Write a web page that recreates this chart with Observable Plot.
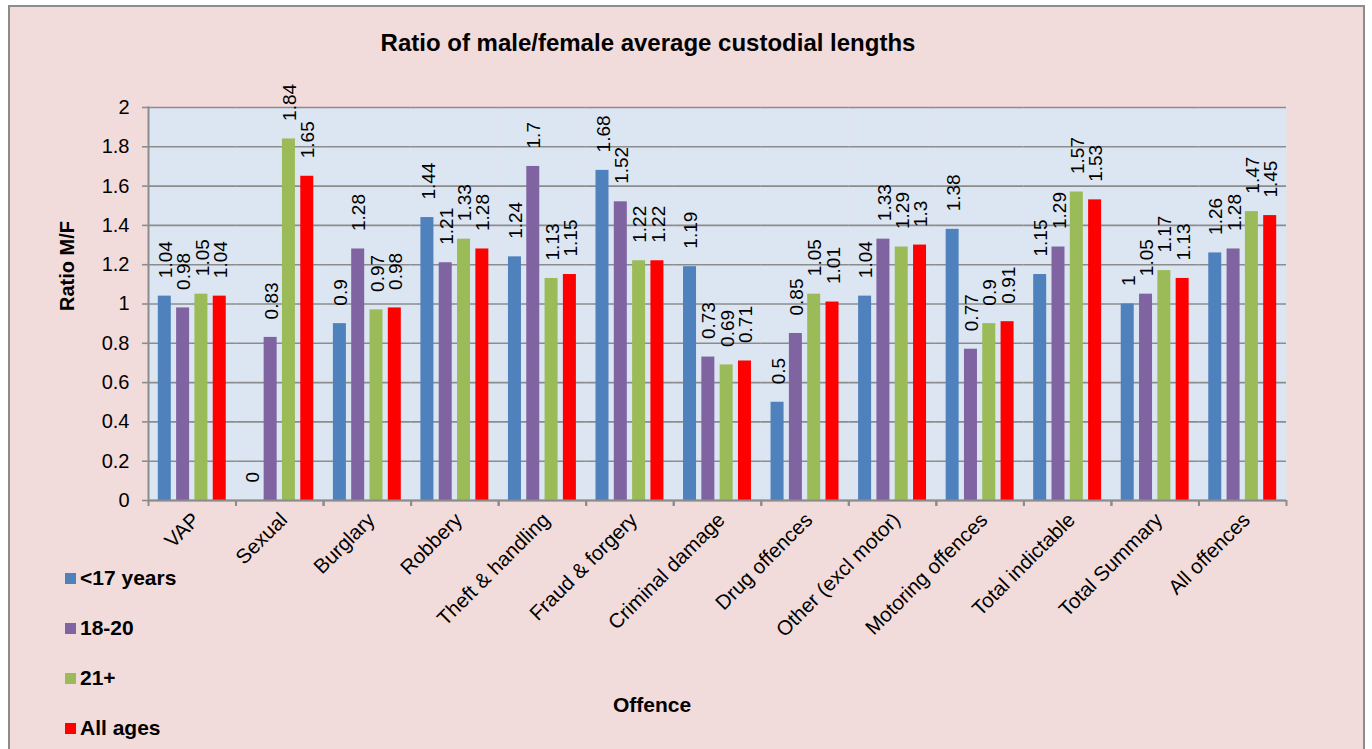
<!DOCTYPE html>
<html>
<head>
<meta charset="utf-8">
<script src="https://cdn.jsdelivr.net/npm/d3@7"></script>
<script src="https://cdn.jsdelivr.net/npm/@observablehq/plot@0.6"></script>
<style>
  html, body { margin: 0; padding: 0; background: #ffffff; width: 1372px; height: 749px; overflow: hidden; }
  body { font-family: "Liberation Sans", Arial, sans-serif; position: relative; }
  #frame { position: absolute; left: 8px; top: 5px; width: 1357px; height: 760px; background: #F2DCDB; border: 2px solid #8c8c8c; box-sizing: border-box; }
  #chart { position: absolute; left: 0; top: 0; }
  #title { position: absolute; left: 0; width: 1296px; top: 29px; text-align: center; font-weight: bold; font-size: 24px; color: #000; }
  #ylabel { position: absolute; left: 67px; top: 266px; transform: translate(-50%, -50%) rotate(-90deg); font-weight: bold; font-size: 20px; white-space: nowrap; }
  #xlabel { position: absolute; left: 652px; top: 705px; transform: translate(-50%, -50%); font-weight: bold; font-size: 21px; }
  .leg { position: absolute; left: 65px; font-weight: bold; font-size: 21px; display: flex; align-items: center; transform: translateY(-50%); }
  .leg span.sw { display: inline-block; width: 11px; height: 11px; margin-right: 4px; }
</style>
</head>
<body>
<div id="frame"></div>
<div id="chart"></div>
<div id="title">Ratio of male/female average custodial lengths</div>
<div id="ylabel">Ratio M/F</div>
<div id="xlabel">Offence</div>
<div id="legend"></div>
<script>
const offences = ["VAP", "Sexual", "Burglary", "Robbery", "Theft & handling", "Fraud & forgery",
  "Criminal damage", "Drug offences", "Other (excl motor)", "Motoring offences",
  "Total indictable", "Total Summary", "All offences"];
const seriesNames = ["<17 years", "18-20", "21+", "All ages"];
const under17   = [1.04, 0,    0.9,  1.44, 1.24, 1.68, 1.19, 0.5,  1.04, 1.38, 1.15, 1,    1.26];
const age18to20 = [0.98, 0.83, 1.28, 1.21, 1.7,  1.52, 0.73, 0.85, 1.33, 0.77, 1.29, 1.05, 1.28];
const age21plus = [1.05, 1.84, 0.97, 1.33, 1.13, 1.22, 0.69, 1.05, 1.29, 0.9,  1.57, 1.17, 1.47];
const allAges   = [1.04, 1.65, 0.98, 1.28, 1.15, 1.22, 0.71, 1.01, 1.3,  0.91, 1.53, 1.13, 1.45];
const seriesColors = ["#4F81BD", "#8064A2", "#9BBB59", "#FF0000"];
const yTicks = [0, 0.2, 0.4, 0.6, 0.8, 1, 1.2, 1.4, 1.6, 1.8, 2];

const seriesValues = [under17, age18to20, age21plus, allAges];
const data = offences.flatMap((o, i) => seriesNames.map((s, j) => ({offence: o, series: s, value: seriesValues[j][i]})));

const W = 1372, H = 749, mL = 148, mR = 86, mT = 107, mB = 249;
const bandHalf = (W - mL - mR) / offences.length / 2;
const grid = "#8c8c8c";

const chart = Plot.plot({
  width: W, height: H,
  marginLeft: mL, marginRight: mR, marginTop: mT, marginBottom: mB,
  style: {background: "transparent", fontFamily: "'Liberation Sans', Arial, sans-serif", fontSize: "19px", color: "#000"},
  fx: {domain: offences, padding: 0, round: false, label: null, axis: null},
  x: {domain: seriesNames, paddingInner: 0.29, paddingOuter: 0.535, round: false, axis: null},
  y: {domain: [0, 2], label: null},
  color: {domain: seriesNames, range: seriesColors},
  marks: [
    Plot.frame({fill: "#DCE6F2"}),
    Plot.gridY(yTicks, {stroke: grid, strokeOpacity: 1, strokeWidth: 1.6}),
    Plot.barY(data, {fx: "offence", x: "series", y: "value", fill: "series"}),
    Plot.text(data, {fx: "offence", x: "series", y: "value", text: d => String(d.value),
      rotate: -90, textAnchor: "start", dy: -18, dx: 1, fontSize: 19, fill: "#000"}),
    Plot.ruleY([0], {stroke: grid, strokeWidth: 2}),
    Plot.frame({anchor: "left", facetAnchor: "left", stroke: grid, strokeWidth: 2}),
    Plot.axisY(yTicks, {tickSize: 6, tickPadding: 13, tickFormat: d => String(d), fontSize: 20, stroke: grid, strokeWidth: 1.6, fill: "#000", label: null}),
    Plot.axisFx({anchor: "bottom", tickRotate: -45, tickSize: 0, tickPadding: 16, dx: 4, fontSize: 20.5, fill: "#000", label: null}),
    Plot.axisFx({anchor: "bottom", text: null, tickSize: 6, dx: -bandHalf, stroke: grid, strokeWidth: 2, label: null}),
    Plot.axisFx([offences[offences.length - 1]], {anchor: "bottom", text: null, tickSize: 6, dx: bandHalf, stroke: grid, strokeWidth: 2, label: null})
  ]
});
document.getElementById("chart").appendChild(chart);

const legend = document.getElementById("legend");
const legendY = [578, 628, 678, 728];
seriesNames.forEach((s, i) => {
  const d = document.createElement("div");
  d.className = "leg";
  d.style.top = legendY[i] + "px";
  d.innerHTML = `<span class="sw" style="background:${seriesColors[i]}"></span>`;
  d.appendChild(document.createTextNode(s));
  legend.appendChild(d);
});
</script>
</body>
</html>
